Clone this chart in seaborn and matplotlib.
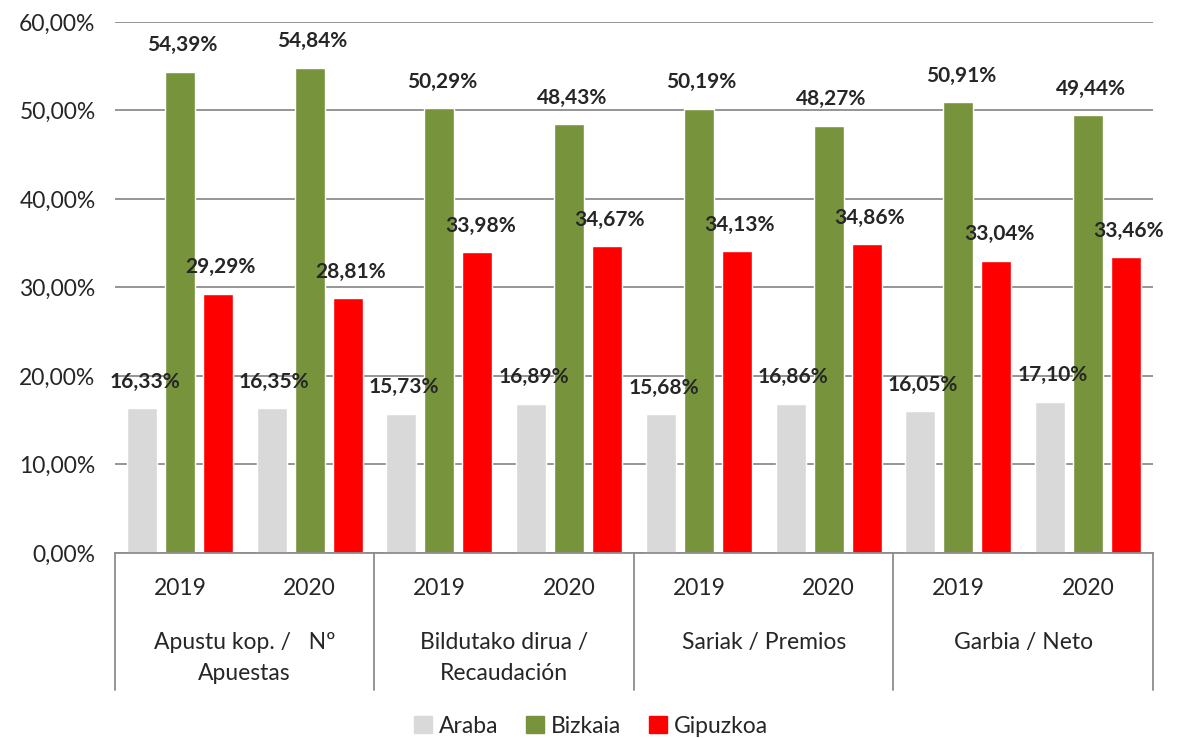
import pandas as pd
import matplotlib.pyplot as plt
import seaborn as sns
from matplotlib.transforms import blended_transform_factory
from matplotlib.patches import Patch

# Data
categories = ['Apustu kop. /   Nº\nApuestas', 'Bildutako dirua /\nRecaudación',
              'Sariak / Premios', 'Garbia / Neto']
years = ['2019', '2020']
series = ['Araba', 'Bizkaia', 'Gipuzkoa']
araba = [16.33, 16.35, 15.73, 16.89, 15.68, 16.86, 16.05, 17.10]
bizkaia = [54.39, 54.84, 50.29, 48.43, 50.19, 48.27, 50.91, 49.44]
gipuzkoa = [29.29, 28.81, 33.98, 34.67, 34.13, 34.86, 33.04, 33.46]
colors = ['#D9D9D9', '#77933C', '#FF0000']

# Long table
slots = [f'{c}|{y}' for c in categories for y in years]
rows = []
for name, vals in zip(series, [araba, bizkaia, gipuzkoa]):
    for slot, v in zip(slots, vals):
        rows.append({'slot': slot, 'series': name, 'value': v})
df = pd.DataFrame(rows)

sns.set_style('white')
plt.rcParams['font.family'] = ['Lato', 'DejaVu Sans']

fig = plt.figure(figsize=(11.89, 7.38), dpi=100)
ax = fig.add_axes([0.0967, 0.2507, 0.873, 0.7195])

sns.barplot(data=df, x='slot', y='value', hue='series', order=slots,
            hue_order=series, palette=colors, width=0.88, gap=0.21,
            saturation=1, ax=ax, legend=False)

# Value labels
for cont in ax.containers:
    for bar in cont:
        h = bar.get_height()
        ax.annotate(f'{h:.2f}%'.replace('.', ','),
                    (bar.get_x() + bar.get_width() / 2, h),
                    xytext=(2, 19), textcoords='offset points',
                    ha='center', va='center', fontsize=15, fontweight='bold')

ax.set_ylim(0, 60)
ax.set_yticks(range(0, 61, 10))
ax.set_yticklabels([f'{v},00%' for v in range(0, 61, 10)], fontsize=16.5)
ax.yaxis.grid(True, color='#8C8C8C', linewidth=1.3)
ax.set_axisbelow(True)
ax.set_xlim(-0.5, len(slots) - 0.5)
ax.set_xticks(range(len(slots)))
ax.set_xticklabels(years * len(categories), fontsize=16.5)
ax.tick_params(axis='x', length=0, pad=18)
ax.tick_params(axis='y', length=0, pad=14)
ax.set_xlabel('')
ax.set_ylabel('')
for s in ['left', 'right', 'top']:
    ax.spines[s].set_visible(False)
ax.spines['bottom'].set_color('#8C8C8C')
ax.spines['bottom'].set_linewidth(1.3)

# Multi-level axis
trans = blended_transform_factory(ax.transData, ax.transAxes)
for x in [-0.5, 1.5, 3.5, 5.5, 7.5]:
    ax.plot([x, x], [0, -0.258], transform=trans, color='#8C8C8C',
            linewidth=1.3, clip_on=False)
for i, cat in enumerate(categories):
    ax.text(2 * i + 0.5, -0.148, cat, transform=trans, ha='center', va='top',
            fontsize=16.5, linespacing=1.6)

handles = [Patch(color=c, label=s) for c, s in zip(colors, series)]
fig.legend(handles=handles, loc='center', bbox_to_anchor=(0.497, 0.016),
           ncol=3, frameon=False, fontsize=16.5, handlelength=0.8,
           handleheight=0.8, handletextpad=0.3, columnspacing=1.2)

fig.savefig('out.png', dpi=100)
